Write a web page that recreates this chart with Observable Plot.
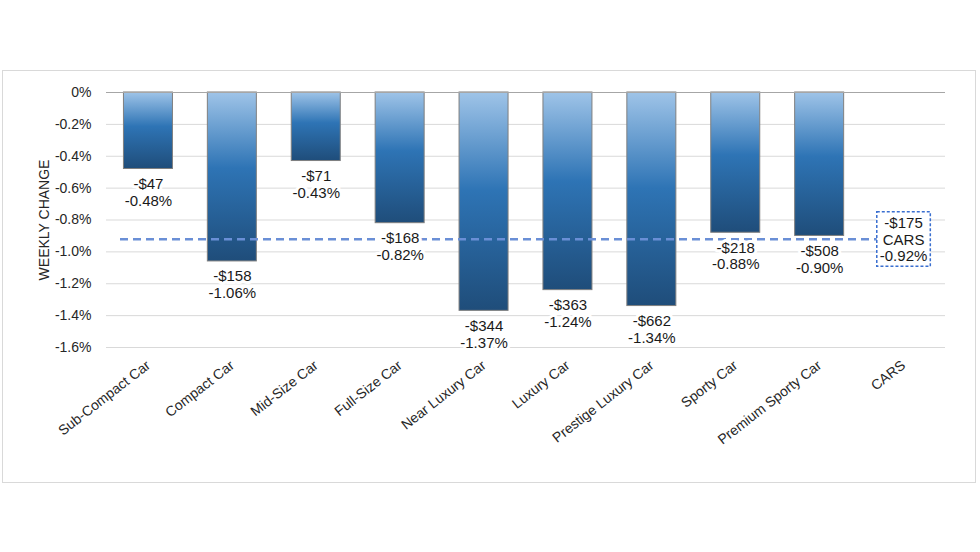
<!DOCTYPE html>
<html>
<head>
<meta charset="utf-8">
<script src="https://cdn.jsdelivr.net/npm/d3@7"></script>
<script src="https://cdn.jsdelivr.net/npm/@observablehq/plot@0.6"></script>
<style>
  html, body { margin: 0; padding: 0; background: #fff; }
  #wrap { position: relative; width: 980px; height: 552px; overflow: hidden; }
  #border { position: absolute; left: 2px; top: 70px; width: 972px; height: 411px; border: 1px solid #d9d9d9; pointer-events: none; }
  svg { font-family: "Liberation Sans", Arial, sans-serif; }
</style>
</head>
<body>
<div id="wrap"><div id="border"></div></div>
<script>
const categories = ["Sub-Compact Car", "Compact Car", "Mid-Size Car", "Full-Size Car", "Near Luxury Car", "Luxury Car", "Prestige Luxury Car", "Sporty Car", "Premium Sporty Car", "CARS"];
const barCategories = ["Sub-Compact Car", "Compact Car", "Mid-Size Car", "Full-Size Car", "Near Luxury Car", "Luxury Car", "Prestige Luxury Car", "Sporty Car", "Premium Sporty Car"];
const pctChange = [-0.48, -1.06, -0.43, -0.82, -1.37, -1.24, -1.34, -0.88, -0.90];
const dollarChange = [-47, -158, -71, -168, -344, -363, -662, -218, -508];
const carsCategory = "CARS";
const carsPct = -0.92;
const carsDollar = -175;
const yTicks = [0, -0.2, -0.4, -0.6, -0.8, -1.0, -1.2, -1.4, -1.6];

const fmtPct = v => (v === 0 ? "0" : v.toFixed(1)) + "%";
const fmtDollar = v => (v < 0 ? "-$" : "$") + Math.abs(v);

const bars = barCategories.map((c, i) => ({
  cat: c, pct: pctChange[i], dollar: dollarChange[i],
  label: fmtDollar(dollarChange[i]) + "\n" + pctChange[i].toFixed(2) + "%"
}));
const carsLabel = fmtDollar(carsDollar) + "\nCARS\n" + carsPct.toFixed(2) + "%";
const cars = [{cat: carsCategory, pct: carsPct, label: carsLabel}];

const defs = () => {
  const d = d3.create("svg:defs");
  const g = d.append("linearGradient").attr("id", "barGrad").attr("x1", 0).attr("y1", 0).attr("x2", 0).attr("y2", 1);
  g.append("stop").attr("offset", "0%").attr("stop-color", "#9fc4e8");
  g.append("stop").attr("offset", "45%").attr("stop-color", "#2e74b5");
  g.append("stop").attr("offset", "100%").attr("stop-color", "#1f4d7a");
  return d.node();
};

const chart = Plot.plot({
  width: 980,
  height: 552,
  marginLeft: 106,
  marginRight: 35,
  marginTop: 92,
  marginBottom: 205,
  style: {fontFamily: "'Liberation Sans', Arial, sans-serif", fontSize: "14px", color: "#262626", background: "transparent"},
  x: {domain: categories, paddingInner: 0.416, paddingOuter: 0.208, round: false, label: null},
  y: {domain: [-1.6, 0], label: null},
  marks: [
    defs,
    Plot.ruleY(yTicks.filter(t => t !== 0), {stroke: "#d9d9d9", strokeWidth: 1}),
    Plot.barY(bars, {x: "cat", y: "pct", fill: "url(#barGrad)", stroke: "#7f7f7f", strokeWidth: 1}),
    Plot.ruleY([0], {stroke: "#a6a6a6", strokeWidth: 1}),
    Plot.ruleY([carsPct], {stroke: "#6a8fd6", strokeWidth: 2.5, strokeDasharray: "8,5", insetLeft: 14, insetRight: 67}),
    Plot.text(bars, {x: "cat", y: "pct", text: "label", lineAnchor: "top", dy: 8, fontSize: 15, lineHeight: 1.12,
      fill: "#1a1a1a", stroke: "white", strokeWidth: 6, paintOrder: "stroke"}),
    Plot.text(cars, {x: "cat", y: "pct", text: "label", lineAnchor: "middle", fontSize: 15, lineHeight: 1.12,
      fill: "#1a1a1a"}),
    Plot.axisY({ticks: yTicks, tickFormat: fmtPct, tickSize: 0, tickPadding: 15, fontSize: 14,
      label: "WEEKLY CHANGE", labelAnchor: "center", labelArrow: "none", labelOffset: 67}),
    Plot.axisX({tickSize: 0, tickPadding: 16, tickRotate: -38, fontSize: 14, label: null})
  ]
});

document.getElementById("wrap").appendChild(chart);
chart.style.position = "absolute";
chart.style.left = "0px";
chart.style.top = "0px";

// dashed box around CARS label, sized from the rendered text
const carsText = Array.from(chart.querySelectorAll("text")).find(t => t.textContent.startsWith(fmtDollar(carsDollar)));
if (carsText) {
  const bb = carsText.getBBox();
  const padX = 3, padY = 2;
  const rect = document.createElementNS("http://www.w3.org/2000/svg", "rect");
  rect.setAttribute("x", bb.x - padX);
  rect.setAttribute("y", bb.y - padY);
  rect.setAttribute("width", bb.width + 2 * padX);
  rect.setAttribute("height", bb.height + 2 * padY);
  rect.setAttribute("fill", "white");
  rect.setAttribute("stroke", "#3a6fd0");
  rect.setAttribute("stroke-width", 1.5);
  rect.setAttribute("stroke-dasharray", "3,2");
  const tr = carsText.getAttribute("transform");
  if (tr) rect.setAttribute("transform", tr);
  carsText.parentNode.insertBefore(rect, carsText);
}
</script>
</body>
</html>
